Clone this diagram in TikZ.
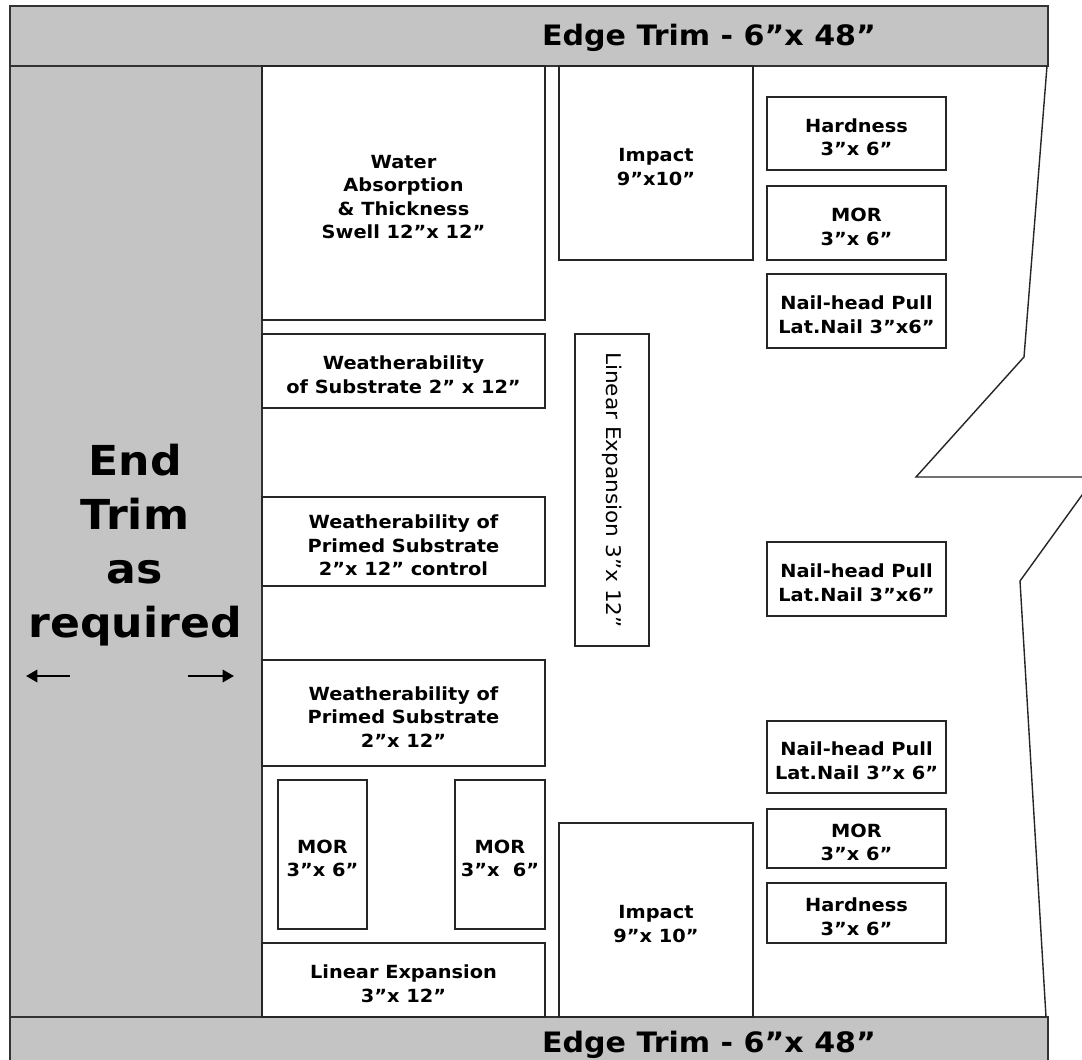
\documentclass[tikz,border=0pt]{standalone}
\usepackage{fontspec}
\setmainfont{DejaVu Sans}[FakeStretch=1.07]
\usetikzlibrary{fit,arrows.meta}
\definecolor{trimgray}{RGB}{196,196,196}

\tikzset{
  trim/.style={draw=black!80, line width=0.8pt, fill=trimgray, inner sep=0pt},
  sample/.style={draw=black!85, line width=0.8pt, fill=white, inner sep=0pt},
  boxtext/.style={align=center, inner sep=0pt, yshift=-2.2pt,
    font=\bfseries\fontsize{10.3}{13.3}\selectfont},
  trimtext/.style={font=\bfseries\fontsize{16}{19}\selectfont, anchor=base},
  endtext/.style={font=\bfseries\fontsize{23.5}{30.7}\selectfont, align=center},
  cutline/.style={draw=black!85, line width=0.8pt},
  pull/.style={-{Triangle[length=6.5pt,width=7pt]}, line width=1.5pt}
}

\begin{document}
\begin{tikzpicture}[x=0.02cm,y=-0.02cm]
  \useasboundingbox (0,0) rectangle (1082,1059);
  \fill[white] (0,0) rectangle (1082,1059);

  \node[trim, fit={(10,6) (1048,66)}] (topedge) {};
  \node[trim, fit={(10,1017) (1048,1065)}] (botedge) {};
  \node[trim, fit={(10,66) (262,1017)}] (endtrim) {};
  \node[trimtext] (toplabel) at (709,45) {Edge Trim - 6”x 48”};
  \node[trimtext] (botlabel) at (709,1052) {Edge Trim - 6”x 48”};

  \node[endtext] (endlabel) at (135,545) {End\\Trim\\as\\required};
  \coordinate (leftstart) at (70,676);
  \coordinate (leftend) at (26,676);
  \coordinate (rightstart) at (188,676);
  \coordinate (rightend) at (234,676);
  \draw[pull] (leftstart) -- (leftend);
  \draw[pull] (rightstart) -- (rightend);

  \node[sample, fit={(262,66) (545,320)}] (water) {};
  \node[sample, fit={(262,334) (545,408)}] (weather) {};
  \node[sample, fit={(262,497) (545,586)}] (primedA) {};
  \node[sample, fit={(262,660) (545,766)}] (primedB) {};
  \node[sample, fit={(278,780) (367,929)}] (morA) {};
  \node[sample, fit={(455,780) (545,929)}] (morB) {};
  \node[sample, fit={(262,943) (545,1017)}] (linearB) {};
  \node[sample, fit={(559,66) (753,260)}] (impactA) {};
  \node[sample, fit={(575,334) (649,646)}] (linearA) {};
  \node[sample, fit={(559,823) (753,1017)}] (impactB) {};
  \node[sample, fit={(767,97) (946,170)}] (hardA) {};
  \node[sample, fit={(767,186) (946,260)}] (morC) {};
  \node[sample, fit={(767,274) (946,348)}] (nailA) {};
  \node[sample, fit={(767,542) (946,616)}] (nailB) {};
  \node[sample, fit={(767,721) (946,793)}] (nailC) {};
  \node[sample, fit={(767,809) (946,868)}] (morD) {};
  \node[sample, fit={(767,883) (946,943)}] (hardB) {};

  \node[boxtext] (watertext) at (water) {Water\\Absorption\\\& Thickness\\Swell 12”x 12”};
  \node[boxtext] (weathertext) at (weather) {Weatherability\\of Substrate 2” x 12”};
  \node[boxtext] (primedAtext) at (primedA) {Weatherability of\\Primed Substrate\\2”x 12” control};
  \node[boxtext] (primedBtext) at (primedB) {Weatherability of\\Primed Substrate\\2”x 12”};
  \node[boxtext] (morAtext) at (morA) {MOR\\3”x 6”};
  \node[boxtext] (morBtext) at (morB) {MOR\\3”x\ \ 6”};
  \node[boxtext] (linearBtext) at (linearB) {Linear Expansion\\3”x 12”};
  \node[boxtext] (impactAtext) at (impactA) {Impact\\9”x10”};
  \node[font=\fontsize{11.5}{14}\selectfont, rotate=-90] (linearAtext) at (linearA.center) {Linear Expansion 3”x 12”};
  \node[boxtext] (impactBtext) at (impactB) {Impact\\9”x 10”};
  \node[boxtext] (hardAtext) at (hardA) {Hardness\\3”x 6”};
  \node[boxtext] (morCtext) at (morC) {MOR\\3”x 6”};
  \node[boxtext] (nailAtext) at (nailA) {Nail-head Pull\\Lat.Nail 3”x6”};
  \node[boxtext] (nailBtext) at (nailB) {Nail-head Pull\\Lat.Nail 3”x6”};
  \node[boxtext] (nailCtext) at (nailC) {Nail-head Pull\\Lat.Nail 3”x 6”};
  \node[boxtext] (morDtext) at (morD) {MOR\\3”x 6”};
  \node[boxtext] (hardBtext) at (hardB) {Hardness\\3”x 6”};

  \draw[cutline] (1047,66) -- (1024,357) -- (916,477) -- (1090,477);
  \draw[cutline] (1090,484) -- (1020,581) -- (1046,1017);
\end{tikzpicture}
\end{document}
